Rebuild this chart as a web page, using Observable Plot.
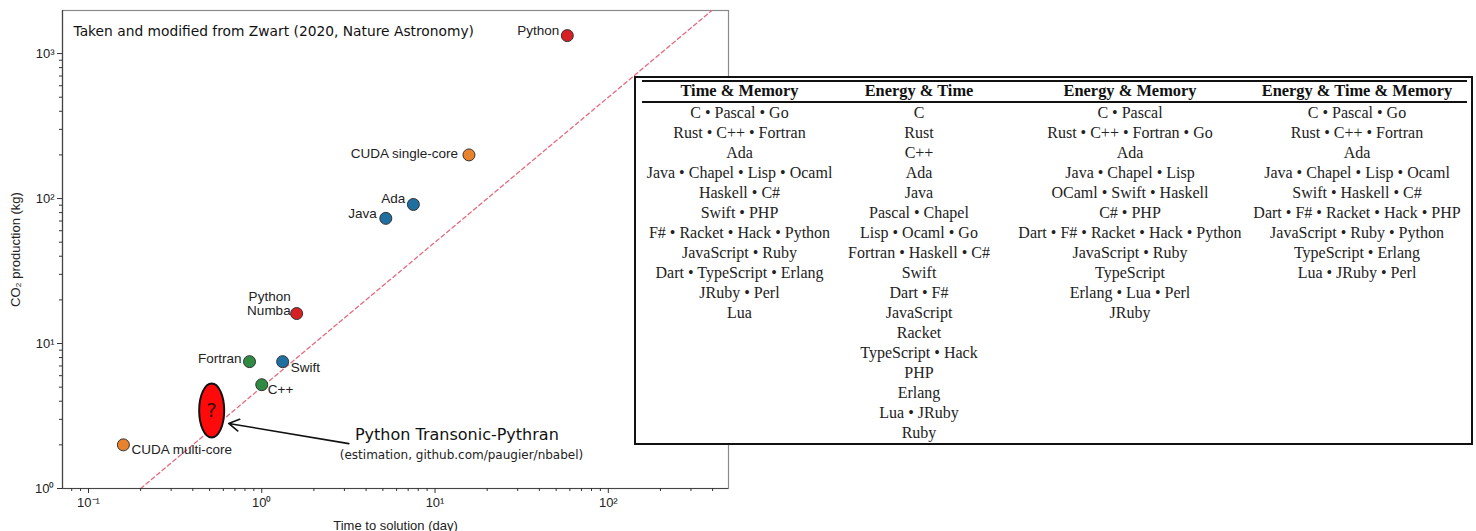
<!DOCTYPE html>
<html><head><meta charset="utf-8">
<script src="https://cdn.jsdelivr.net/npm/d3@7"></script>
<script src="https://cdn.jsdelivr.net/npm/@observablehq/plot@0.6"></script>
<style>
html,body{margin:0;padding:0;background:#fff;}
#wrap{position:relative;width:1476px;height:531px;overflow:hidden;background:#fff;}
#plot{position:absolute;left:0;top:0;}
.tbox{position:absolute;left:634px;top:76px;width:839px;height:369px;box-sizing:border-box;border:2px solid #111;background:#fff;}
.rule{position:absolute;left:642px;width:825px;background:#111;}
.col{position:absolute;width:260px;text-align:center;font-family:"Liberation Serif","Times New Roman",serif;font-size:16px;line-height:20px;color:#222;white-space:nowrap;}
.hdr{font-weight:bold;color:#111;font-size:16.4px;}
</style></head><body><div id="wrap"><div id="plot"></div></div>
<script>
// ---- scatter data ----
const languages = ["Python", "CUDA single-core", "Ada", "Java", "Python\nNumba", "Fortran", "Swift", "C++", "CUDA multi-core"];
const timeToSolution = [58, 15.7, 7.5, 5.2, 1.59, 0.85, 1.32, 1.0, 0.159];   // days
const co2Production = [1330, 200, 91, 73, 16.1, 7.5, 7.5, 5.2, 2.0];        // kg
const languageGroup = ["Python", "CUDA", "Blue", "Blue", "Python", "Green", "Blue", "Green", "CUDA"];

const estimateName = ["?"];
const estimateTime = [0.514];
const estimateCO2 = [3.45];

const refLineTime = [0.2, 396];
const refLineCO2 = [1, 1980];

const arrowFromTime = [3.18], arrowFromCO2 = [2.04];
const arrowToTime = [0.644], arrowToCO2 = [2.81];

const annotationText = ["Python Transonic-Pythran", "(estimation, github.com/paugier/nbabel)"];
const annotationTime = [3.45, 2.82];
const annotationCO2 = [2.36, 1.69];

const titleText = "Taken and modified from Zwart (2020, Nature Astronomy)";
const xLabel = "Time to solution (day)";
const yLabel = "CO\u2082 production (kg)";
const xMajorTicks = [0.1, 1, 10, 100];
const yMajorTicks = [1, 10, 100, 1000];
const minorMultipliers = [2, 3, 4, 5, 6, 7, 8, 9];

// ---- table data ----
const tableHeaders = ["Time & Memory", "Energy & Time", "Energy & Memory", "Energy & Time & Memory"];
const timeMemory = ["C • Pascal • Go", "Rust • C++ • Fortran", "Ada", "Java • Chapel • Lisp • Ocaml", "Haskell • C#", "Swift • PHP", "F# • Racket • Hack • Python", "JavaScript • Ruby", "Dart • TypeScript • Erlang", "JRuby • Perl", "Lua"];
const energyTime = ["C", "Rust", "C++", "Ada", "Java", "Pascal • Chapel", "Lisp • Ocaml • Go", "Fortran • Haskell • C#", "Swift", "Dart • F#", "JavaScript", "Racket", "TypeScript • Hack", "PHP", "Erlang", "Lua • JRuby", "Ruby"];
const energyMemory = ["C • Pascal", "Rust • C++ • Fortran • Go", "Ada", "Java • Chapel • Lisp", "OCaml • Swift • Haskell", "C# • PHP", "Dart • F# • Racket • Hack • Python", "JavaScript • Ruby", "TypeScript", "Erlang • Lua • Perl", "JRuby"];
const energyTimeMemory = ["C • Pascal • Go", "Rust • C++ • Fortran", "Ada", "Java • Chapel • Lisp • Ocaml", "Swift • Haskell • C#", "Dart • F# • Racket • Hack • PHP", "JavaScript • Ruby • Python", "TypeScript • Erlang", "Lua • JRuby • Perl"];

// ---- build ----
const points = languages.map((name, i) => ({name, time: timeToSolution[i], co2: co2Production[i], group: languageGroup[i]}));
const estimate = estimateName.map((q, i) => ({q, time: estimateTime[i], co2: estimateCO2[i]}));
const refLine = refLineTime.map((t, i) => ({time: t, co2: refLineCO2[i]}));
const arrowData = arrowFromTime.map((t, i) => ({t1: t, c1: arrowFromCO2[i], t2: arrowToTime[i], c2: arrowToCO2[i]}));
const annotations = annotationText.map((text, i) => ({text, time: annotationTime[i], co2: annotationCO2[i]}));

const xDomain = [0.0708, 494];
const yDomain = [1, 1982];
const xMinorTicks = [], yMinorTicks = [];
for (let e = -2; e <= 2; e++) for (const m of minorMultipliers) { const v = m * Math.pow(10, e); if (v > xDomain[0] && v < xDomain[1]) xMinorTicks.push(v); }
for (let e = 0; e <= 3; e++) for (const m of minorMultipliers) { const v = m * Math.pow(10, e); if (v > yDomain[0] && v < yDomain[1]) yMinorTicks.push(v); }

const supMap = {"-": "\u207B", "0": "\u2070", "1": "\u00B9", "2": "\u00B2", "3": "\u00B3"};
const pow10 = d => "10" + String(Math.round(Math.log10(d))).split("").map(c => supMap[c]).join("");

const ellipseSymbol = {
  draw(ctx) {
    const rx = 12.5, ry = 27, k = 0.5523;
    ctx.moveTo(rx, 0);
    ctx.bezierCurveTo(rx, k * ry, k * rx, ry, 0, ry);
    ctx.bezierCurveTo(-k * rx, ry, -rx, k * ry, -rx, 0);
    ctx.bezierCurveTo(-rx, -k * ry, -k * rx, -ry, 0, -ry);
    ctx.bezierCurveTo(k * rx, -ry, rx, -k * ry, rx, 0);
    ctx.closePath();
  }
};

const labelPlacement = {
  "Python": {anchor: "end", dx: -8, dy: -5},
  "CUDA single-core": {anchor: "end", dx: -11, dy: -1},
  "Ada": {anchor: "end", dx: -8, dy: -6},
  "Java": {anchor: "end", dx: -9, dy: -5},
  "Python\nNumba": {anchor: "end", dx: -6, dy: -10},
  "Fortran": {anchor: "end", dx: -8, dy: -3},
  "Swift": {anchor: "start", dx: 8, dy: 6},
  "C++": {anchor: "start", dx: 6, dy: 5},
  "CUDA multi-core": {anchor: "start", dx: 8, dy: 5}
};

const sans = "'Liberation Sans', Arial, sans-serif";
const deja = "'DejaVu Sans', Verdana, sans-serif";

const chart = Plot.plot({
  width: 740, height: 531,
  marginLeft: 62, marginRight: 12, marginTop: 10, marginBottom: 43,
  style: {fontFamily: sans, fontSize: "12.5px", background: "white", color: "#222", overflow: "visible"},
  x: {type: "log", domain: xDomain},
  y: {type: "log", domain: yDomain},
  color: {domain: ["Python", "CUDA", "Blue", "Green"], range: ["#d62024", "#e8822c", "#1f6fa0", "#2f8a42"]},
  marks: [
    Plot.frame({stroke: "#8a8a8a", strokeWidth: 1.2}),
    Plot.line(refLine, {x: "time", y: "co2", stroke: "#e46a82", strokeWidth: 1.3, strokeDasharray: "4,3"}),
    Plot.ruleY([yDomain[0]], {stroke: "#444", strokeWidth: 1.2}),
    Plot.ruleX([xDomain[0]], {stroke: "#444", strokeWidth: 1.2}),
    Plot.axisX(xMinorTicks, {tickSize: 3, tickFormat: () => "", label: null, stroke: "#333"}),
    Plot.axisX(xMajorTicks, {tickSize: 5, tickPadding: 4, tickFormat: pow10, stroke: "#333", fontSize: 13,
      label: xLabel, labelAnchor: "center", labelArrow: "none", labelOffset: 41}),
    Plot.axisY(yMinorTicks, {tickSize: 3, tickFormat: () => "", label: null, stroke: "#333"}),
    Plot.axisY(yMajorTicks, {tickSize: 5, tickPadding: 3, tickFormat: pow10, stroke: "#333", fontSize: 13,
      label: yLabel, labelAnchor: "center", labelArrow: "none", labelOffset: 52}),
    Plot.text([titleText], {frameAnchor: "top-left", dx: 11, dy: 16, textAnchor: "start", fontFamily: deja, fontSize: 13.8, fill: "#111"}),
    Plot.arrow(arrowData, {x1: "t1", y1: "c1", x2: "t2", y2: "c2", stroke: "#111", strokeWidth: 1.6, headLength: 11}),
    Plot.dot(estimate, {x: "time", y: "co2", symbol: ellipseSymbol, r: 10, fill: "#ff0a0a", stroke: "#111", strokeWidth: 2}),
    Plot.text(estimate, {x: "time", y: "co2", text: "q", fontSize: 20, fill: "#3a0a0a", fontFamily: deja}),
    Plot.dot(points, {x: "time", y: "co2", r: 6, fill: "group", stroke: "#333", strokeWidth: 1}),
    ...Object.entries(labelPlacement).map(([name, p]) =>
      Plot.text(points.filter(d => d.name === name), {x: "time", y: "co2", text: "name", textAnchor: p.anchor, dx: p.dx, dy: p.dy, fontSize: 13.5, fill: "#222", lineHeight: 1.05})),
    Plot.text(annotations.slice(0, 1), {x: "time", y: "co2", text: "text", textAnchor: "start", fontFamily: deja, fontSize: 16, fill: "#111"}),
    Plot.text(annotations.slice(1), {x: "time", y: "co2", text: "text", textAnchor: "start", fontFamily: deja, fontSize: 12, fill: "#222"})
  ]
});
const wrap = document.getElementById("wrap");
document.getElementById("plot").appendChild(chart);

// table overlay
function add(cls, style, html) {
  const el = document.createElement("div");
  el.className = cls;
  Object.assign(el.style, style);
  if (html != null) el.innerHTML = html;
  wrap.appendChild(el);
  return el;
}
add("tbox", {});
add("rule", {top: "80px", height: "2px"});
add("rule", {top: "101px", height: "1.5px"});
const columns = [timeMemory, energyTime, energyMemory, energyTimeMemory];
const colCenters = [739.5, 919, 1130, 1357];
const esc = s => s.replace(/&/g, "&amp;");
tableHeaders.forEach((h, i) => {
  add("col hdr", {left: (colCenters[i] - 130) + "px", top: "81px"}, esc(h));
  add("col", {left: (colCenters[i] - 130) + "px", top: "103px"}, columns[i].map(esc).join("<br>"));
});
</script></body></html>
